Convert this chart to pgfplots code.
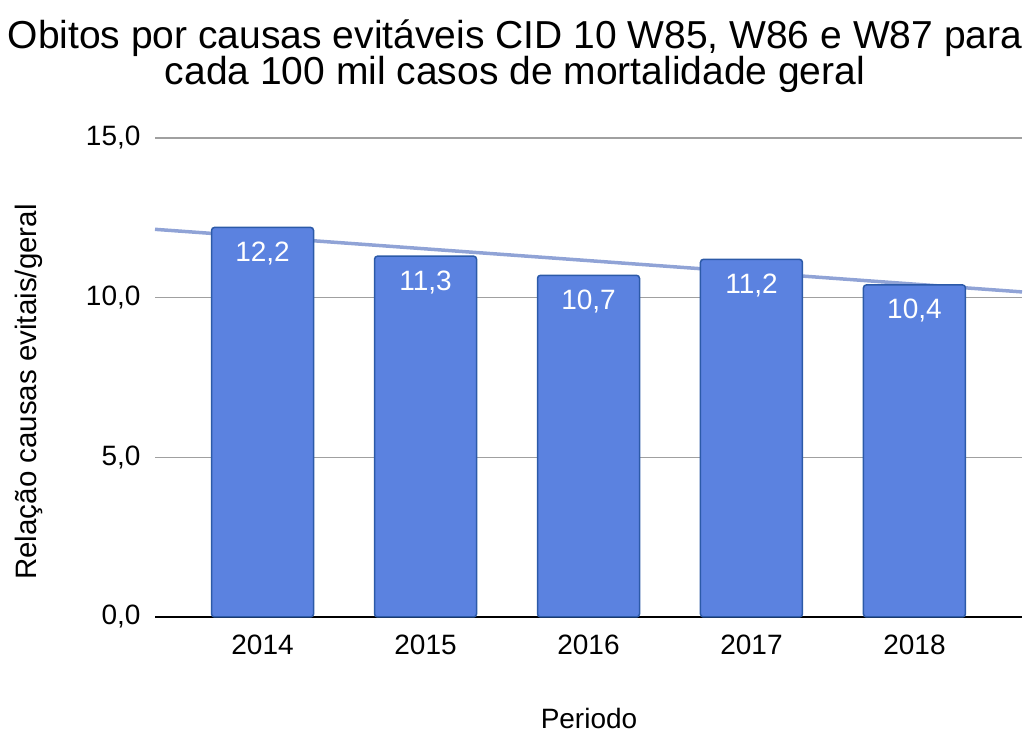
\documentclass[border=0pt]{standalone}
\usepackage{pgfplots}
\pgfplotsset{compat=1.18}
\usepackage{fontspec}
\setmainfont{Liberation Sans}
\definecolor{barfill}{HTML}{5B82E0}
\definecolor{baredge}{HTML}{2C5AA8}
\definecolor{trend}{HTML}{8A9ED4}
\definecolor{gridc}{HTML}{A0A0A0}
\begin{document}
\begin{tikzpicture}[x=1pt,y=1pt]
\useasboundingbox (0,0) rectangle (1025,733);
\begin{axis}[
  at={(155pt,116pt)}, anchor=south west, scale only axis,
  width=867pt, height=479pt,
  xmin=-0.66, xmax=4.66, ymin=0, ymax=15,
  ytick={0,5,10,15}, xtick={0,1,2,3,4},
  xticklabels={2014,2015,2016,2017,2018},
  ymajorgrids, grid style={gridc, line width=1.2pt},
  axis x line=bottom, axis y line=left,
  x axis line style={black, line width=1.2pt, -},
  y axis line style={draw=none},
  major tick length=0pt,
  tick label style={font=\fontsize{28}{30}\selectfont},
  yticklabel style={/pgf/number format/.cd, fixed, fixed zerofill, precision=1, use comma, assume math mode=true, /tikz/xshift=-11pt},
  xticklabel style={/pgf/number format/assume math mode=true, yshift=-14pt},
  ylabel={}, xlabel={},
  clip=false,
]
\addplot[trend, line width=3.5pt, opacity=0.95] coordinates {(-0.66,12.14) (4.66,10.18)};
\addplot[ybar, bar width=102pt, fill=barfill, draw=baredge, line width=1.5pt, rounded corners=3pt,
  nodes near coords={\pgfmathprintnumber[fixed, fixed zerofill, precision=1, use comma, assume math mode=true]{\pgfplotspointmeta}},
  every node near coord/.append style={text=white, anchor=center, yshift=-26pt, font=\fontsize{28}{30}\selectfont}]
  coordinates {(0,12.2) (1,11.3) (2,10.7) (3,11.2) (4,10.4)};
\end{axis}
\node[anchor=base, font=\fontsize{39}{36}\selectfont] at (515,684) {Obitos por causas evitáveis CID 10 W85, W86 e W87 para};
\node[anchor=base, font=\fontsize{39}{36}\selectfont] at (515,648) {cada 100 mil casos de mortalidade geral};
\node[rotate=90, font=\fontsize{29.5}{32}\selectfont] at (29,341) {Relação causas evitais/geral};
\node[anchor=base, font=\fontsize{28}{30}\selectfont] at (589,4) {Periodo};
\end{tikzpicture}
\end{document}
